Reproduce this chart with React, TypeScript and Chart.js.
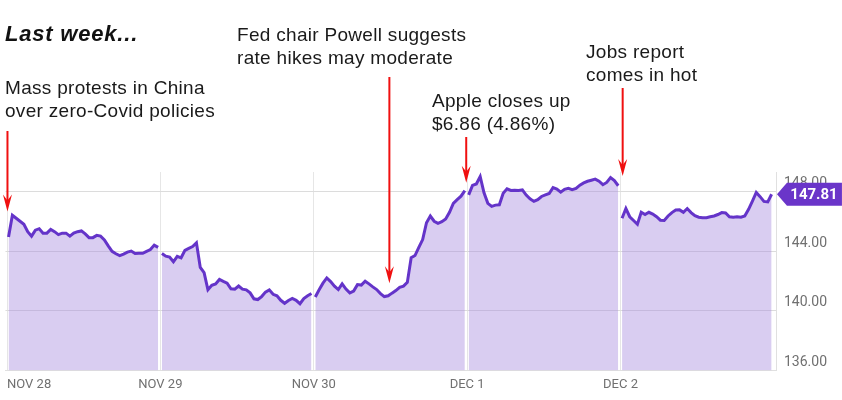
import { useEffect, useRef } from 'react';
import { Chart, registerables } from 'chart.js';

Chart.register(...registerables);

// ---- data ----
const DAYS = ['NOV 28', 'NOV 29', 'NOV 30', 'DEC 1', 'DEC 2'];

const NOV28 = [
  144.95, 146.4, 146.2, 146.0, 145.8, 145.3, 145.0, 145.4, 145.5, 145.2,
  145.2, 145.45, 145.3, 145.1, 145.2, 145.2, 145.0, 145.2, 145.3, 145.35,
  145.15, 144.9, 144.9, 145.05, 145.0, 144.75, 144.35, 143.98, 143.82, 143.7,
  143.8, 143.93, 144.0, 143.84, 143.85, 143.85, 143.98, 144.1, 144.4, 144.25,
];
const NOV29 = [
  143.84, 143.66, 143.6, 143.28, 143.65, 143.55, 144.05, 144.18, 144.3, 144.55,
  142.9, 142.55, 141.4, 141.7, 141.8, 142.1, 141.97, 141.85, 141.47, 141.45,
  141.66, 141.45, 141.4, 141.2, 140.8, 140.75, 140.95, 141.25, 141.4, 141.1,
  141.0, 140.7, 140.5, 140.69, 140.82, 140.7, 140.47, 140.82, 141.0, 141.15,
];
const NOV30 = [
  140.92, 141.4, 141.85, 142.2, 141.95, 141.65, 141.42, 141.8, 141.45, 141.2,
  141.32, 141.75, 141.72, 141.98, 141.8, 141.6, 141.42, 141.15, 140.95, 141.0,
  141.18, 141.35, 141.57, 141.65, 141.9, 143.55, 143.7, 144.25, 144.77, 145.9,
  146.35, 146.0, 145.86, 145.97, 146.15, 146.6, 147.2, 147.45, 147.68, 148.05,
];
const DEC1 = [
  147.77, 148.4, 148.5, 149.0, 147.9, 147.2, 147.0, 147.08, 147.1, 147.88,
  148.17, 148.06, 148.08, 148.06, 148.1, 147.75, 147.5, 147.33, 147.45, 147.66,
  147.76, 147.86, 148.25, 148.15, 147.95, 148.14, 148.21, 148.12, 148.2, 148.42,
  148.57, 148.68, 148.75, 148.82, 148.68, 148.45, 148.6, 148.92, 148.72, 148.38,
];
const DEC2 = [
  146.2, 146.85, 146.3, 146.05, 145.8, 146.6, 146.45, 146.6, 146.48, 146.3,
  146.07, 146.05, 146.35, 146.58, 146.75, 146.76, 146.6, 146.85, 146.58, 146.37,
  146.27, 146.24, 146.24, 146.3, 146.35, 146.45, 146.58, 146.55, 146.3, 146.27,
  146.3, 146.27, 146.35, 146.8, 147.35, 147.93, 147.65, 147.33, 147.3, 147.81,
];
const SERIES = [NOV28, NOV29, NOV30, DEC1, DEC2];

const Y_TICKS = [136, 140, 144, 148];
const LAST_PRICE = 147.81;
const TITLE = 'Last week...';

// event annotations: time position (in days) and price the arrow points to
const EVENT_TEXT = [
  ['Mass protests in China', 'over zero-Covid policies'],
  ['Fed chair Powell suggests', 'rate hikes may moderate'],
  ['Apple closes up', '$6.86 (4.86%)'],
  ['Jobs report', 'comes in hot'],
];
const EVENT_X = [0.003, 2.493, 2.994, 4.014];
const EVENT_PRICE = [146.65, 141.84, 148.58, 149.04];

// ---- layout / style ----
const EVENT_BOX = [
  { left: 5, top: 76 },
  { left: 237, top: 23 },
  { left: 432, top: 89 },
  { left: 586, top: 40 },
];
const ARROW_TAIL = [131, 77, 137, 88];

const LINE_COLOR = '#6434c9';
const FILL_COLOR = 'rgba(166, 138, 222, 0.43)';
const TAG_COLOR = '#6a35c9';
const ARROW_COLOR = '#f01010';
const SLOT = 0.025;
const DAY_OFFSET = 0.01;

function buildPoints() {
  const pts: { x: number; y: number | null }[] = [];
  SERIES.forEach((vals, d) => {
    vals.forEach((v, i) => pts.push({ x: d + DAY_OFFSET + i * SLOT, y: v }));
    if (d < SERIES.length - 1) pts.push({ x: d + 0.999, y: null });
  });
  return pts;
}

const overlayPlugin = {
  id: 'overlay',
  afterDraw(chart: any) {
    const { ctx, chartArea, scales } = chart;
    const xs = scales.x;
    const ys = scales.y;
    ctx.save();
    // arrows
    EVENT_X.forEach((ev, k) => {
      const x = xs.getPixelForValue(ev);
      const tip = ys.getPixelForValue(EVENT_PRICE[k]);
      const tail = ARROW_TAIL[k];
      ctx.strokeStyle = ARROW_COLOR;
      ctx.fillStyle = ARROW_COLOR;
      ctx.lineWidth = 2;
      ctx.beginPath();
      ctx.moveTo(x, tail);
      ctx.lineTo(x, tip - 8);
      ctx.stroke();
      ctx.beginPath();
      ctx.moveTo(x, tip);
      ctx.lineTo(x - 4.5, tip - 17);
      ctx.lineTo(x, tip - 11);
      ctx.lineTo(x + 4.5, tip - 17);
      ctx.closePath();
      ctx.fill();
    });
    // last price tag
    const y = ys.getPixelForValue(LAST_PRICE);
    const x0 = chartArea.right;
    ctx.fillStyle = TAG_COLOR;
    ctx.beginPath();
    ctx.moveTo(x0, y);
    ctx.lineTo(x0 + 10, y - 11.5);
    ctx.lineTo(x0 + 65, y - 11.5);
    ctx.lineTo(x0 + 65, y + 11.5);
    ctx.lineTo(x0 + 10, y + 11.5);
    ctx.closePath();
    ctx.fill();
    ctx.fillStyle = '#ffffff';
    ctx.font = 'bold 15px Roboto';
    ctx.textAlign = 'center';
    ctx.textBaseline = 'middle';
    ctx.fillText(LAST_PRICE.toFixed(2), x0 + 37, y + 1);
    ctx.restore();
  },
};

export default function App() {
  const ref = useRef<HTMLCanvasElement | null>(null);

  useEffect(() => {
    if (!ref.current) return;
    const chart = new Chart(ref.current, {
      type: 'line',
      data: {
        datasets: [
          {
            data: buildPoints(),
            borderColor: LINE_COLOR,
            borderWidth: 3,
            backgroundColor: FILL_COLOR,
            fill: 'start',
            pointRadius: 0,
            tension: 0,
            spanGaps: false,
          } as any,
        ],
      },
      options: {
        animation: false,
        responsive: false,
        layout: { padding: { left: 4, right: 8, top: 172, bottom: 0 } },
        plugins: { legend: { display: false }, tooltip: { enabled: false } },
        scales: {
          x: {
            type: 'linear',
            min: -0.01,
            max: 5.02,
            afterBuildTicks: (s: any) => {
              s.ticks = [...DAYS.map((_, i) => ({ value: i })), { value: 5.02 }];
            },
            ticks: {
              autoSkip: false,
              maxRotation: 0,
              align: 'inner',
              padding: 7,
              color: '#707070',
              font: { family: 'Roboto', size: 13 },
              callback: (_v: any, i: number) => DAYS[i] ?? '',
            },
            grid: { color: '#e6e6e6', drawTicks: false },
            border: { display: true, color: '#e0e0e0' },
          },
          y: {
            position: 'right',
            min: 136,
            max: 149.3,
            afterBuildTicks: (s: any) => {
              s.ticks = Y_TICKS.map((v) => ({ value: v }));
            },
            ticks: {
              padding: 7,
              labelOffset: -8,
              color: '#707070',
              font: { family: 'Roboto', size: 14 },
              callback: (v: any) => Number(v).toFixed(2),
            },
            grid: { color: '#dcdcdc', drawTicks: false },
            border: { display: true, color: '#e0e0e0' },
          },
        },
      } as any,
      plugins: [overlayPlugin],
    });
    return () => chart.destroy();
  }, []);

  const textStyle: React.CSSProperties = {
    position: 'absolute',
    fontFamily: '"Liberation Sans", Arial, sans-serif',
    fontSize: 19,
    lineHeight: '23px',
    letterSpacing: '0.3px',
    color: '#1a1a1a',
    whiteSpace: 'nowrap',
  };

  return (
    <div style={{ position: 'fixed', left: 0, top: 0, width: 842, height: 400, background: '#fff' }}>
      <canvas ref={ref} width={842} height={400} style={{ position: 'absolute', left: 0, top: 0, width: 842, height: 400 }} />
      <div
        style={{
          position: 'absolute',
          left: 5,
          top: 21,
          fontFamily: '"Liberation Sans", Arial, sans-serif',
          fontSize: 22,
          lineHeight: '26px',
          fontWeight: 'bold',
          fontStyle: 'italic',
          letterSpacing: '0.8px',
          color: '#111',
          whiteSpace: 'nowrap',
        }}
      >
        {TITLE}
      </div>
      {EVENT_TEXT.map((lines, k) => (
        <div key={k} style={{ ...textStyle, left: EVENT_BOX[k].left, top: EVENT_BOX[k].top }}>
          {lines.map((l, j) => (
            <div key={j}>{l}</div>
          ))}
        </div>
      ))}
    </div>
  );
}
